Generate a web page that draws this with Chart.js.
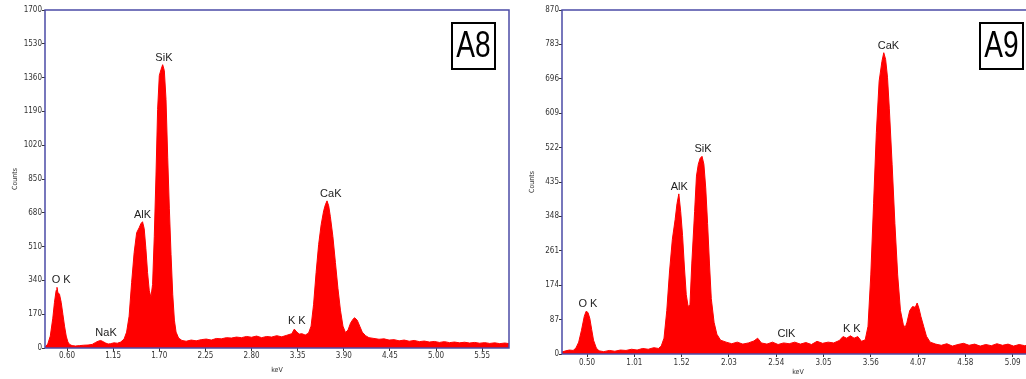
<!DOCTYPE html>
<html>
<head>
<meta charset="utf-8">
<script src="https://cdn.jsdelivr.net/npm/chart.js@4.4.1/dist/chart.umd.min.js"></script>
<style>
    html, body { margin: 0; padding: 0; background: #fff; overflow: hidden; width: 1026px; height: 379px; }
    .panel { position: absolute; top: 0; height: 379px; }
    #boxA8 { left: 0; width: 515px; }
    #boxA9 { left: 512px; width: 530px; }
</style>
</head>
<body>
<div class="panel" id="boxA8"><canvas id="chartA8"></canvas></div>
<div class="panel" id="boxA9"><canvas id="chartA9"></canvas></div>
<script>
// spectrum A8 (keV / counts)
const a8Kev = [0.34, 0.37, 0.40, 0.43, 0.45, 0.47, 0.48, 0.49, 0.51, 0.53, 0.55, 0.57, 0.59, 0.61, 0.63, 0.66, 0.70, 0.75, 0.80, 0.85,
    0.90, 0.94, 0.97, 1.00, 1.03, 1.06, 1.09, 1.12, 1.16, 1.20, 1.24, 1.28, 1.31, 1.34, 1.37, 1.40, 1.43, 1.46, 1.48, 1.50,
    1.52, 1.54, 1.56, 1.58, 1.60, 1.62, 1.64, 1.66, 1.68, 1.70, 1.72, 1.74, 1.76, 1.78, 1.80, 1.82, 1.84, 1.86, 1.88, 1.90,
    1.93, 1.97, 2.02, 2.08, 2.14, 2.20, 2.26, 2.32, 2.38, 2.44, 2.50, 2.56, 2.62, 2.68, 2.74, 2.80, 2.86, 2.92, 2.98, 3.04,
    3.10, 3.16, 3.22, 3.28, 3.31, 3.34, 3.37, 3.40, 3.44, 3.48, 3.51, 3.54, 3.57, 3.60, 3.63, 3.66, 3.68, 3.70, 3.72, 3.74,
    3.77, 3.80, 3.83, 3.86, 3.89, 3.92, 3.95, 3.98, 4.01, 4.03, 4.06, 4.09, 4.12, 4.16, 4.20, 4.26, 4.32, 4.38, 4.44, 4.50,
    4.56, 4.62, 4.68, 4.74, 4.80, 4.86, 4.92, 4.98, 5.04, 5.10, 5.16, 5.22, 5.28, 5.34, 5.40, 5.46, 5.52, 5.58, 5.64, 5.70,
    5.76, 5.82, 5.87];
const a8Counts = [5, 20, 60, 150, 230, 290, 305, 280, 270, 230, 170, 110, 60, 30, 18, 12, 10, 12, 14, 15,
    18, 28, 34, 38, 32, 25, 20, 22, 26, 24, 30, 45, 80, 160, 330, 480, 580, 605, 625, 635,
    600, 500, 380, 290, 255, 320, 560, 860, 1200, 1370, 1400, 1425, 1395, 1250, 960, 700, 470, 270, 140, 80,
    50, 38, 34, 40, 36, 42, 45, 40, 48, 46, 52, 50, 55, 52, 58, 54, 60, 52, 58, 55,
    62, 56, 64, 72, 95, 80, 70, 72, 65, 75, 110, 220, 380, 520, 620, 690, 720, 740, 715, 660,
    560, 430, 300, 190, 110, 78, 90, 125, 145, 152, 140, 110, 80, 62, 52, 48, 44, 46, 40, 42,
    36, 40, 34, 38, 32, 35, 30, 33, 28, 32, 27, 30, 26, 29, 25, 28, 24, 27, 23, 26,
    22, 25, 22];

// spectrum A9 (keV / counts)
const a9Kev = [0.23, 0.27, 0.31, 0.35, 0.38, 0.41, 0.44, 0.47, 0.49, 0.51, 0.53, 0.55, 0.57, 0.60, 0.63, 0.68, 0.74, 0.80, 0.86, 0.92,
    0.98, 1.04, 1.10, 1.16, 1.22, 1.27, 1.30, 1.33, 1.36, 1.39, 1.42, 1.45, 1.47, 1.49, 1.51, 1.53, 1.55, 1.57, 1.59, 1.61,
    1.63, 1.66, 1.68, 1.70, 1.72, 1.74, 1.76, 1.78, 1.80, 1.82, 1.84, 1.87, 1.90, 1.94, 2.00, 2.06, 2.12, 2.18, 2.24, 2.30,
    2.34, 2.38, 2.44, 2.50, 2.56, 2.62, 2.68, 2.74, 2.80, 2.86, 2.92, 2.98, 3.04, 3.10, 3.16, 3.22, 3.26, 3.30, 3.34, 3.38,
    3.42, 3.46, 3.50, 3.53, 3.56, 3.59, 3.62, 3.65, 3.68, 3.70, 3.72, 3.74, 3.76, 3.79, 3.82, 3.85, 3.88, 3.91, 3.93, 3.95,
    3.98, 4.01, 4.04, 4.06, 4.08, 4.10, 4.13, 4.16, 4.20, 4.26, 4.32, 4.38, 4.44, 4.50, 4.56, 4.62, 4.68, 4.74, 4.80, 4.86,
    4.92, 4.98, 5.04, 5.10, 5.16, 5.22, 5.28, 5.32];
const a9Counts = [5, 8, 10, 9, 15, 30, 60, 95, 108, 105, 90, 62, 35, 15, 8, 6, 9, 7, 10, 9,
    12, 10, 14, 12, 16, 14, 20, 40, 110, 210, 290, 340, 380, 405, 360, 300, 220, 150, 120, 125,
    230, 360, 450, 480, 495, 500, 480, 420, 330, 230, 140, 80, 50, 35, 30, 26, 30, 25, 28, 33,
    40, 28, 25, 30, 24, 28, 26, 30, 25, 29, 24, 32, 27, 30, 28, 34, 44, 40, 46, 40,
    44, 32, 36, 70, 200, 380, 560, 690, 740, 762, 745, 700, 620, 480, 330, 200, 110, 75, 66, 80,
    110, 120, 118, 129, 115, 95, 70, 45, 30, 25, 22, 26, 20, 24, 27, 22, 25, 20, 24, 21,
    26, 22, 25, 20, 24, 21, 23, 20];

// axis ticks
const a8TickKev = [0.60, 1.15, 1.70, 2.25, 2.80, 3.35, 3.90, 4.45, 5.00, 5.55];
const a9TickKev = [0.50, 1.01, 1.52, 2.03, 2.54, 3.05, 3.56, 4.07, 4.58, 5.09];

// peak labels
const a8LabelNames = ['O K', 'NaK', 'AlK', 'SiK', 'K K', 'CaK'];
const a8LabelKev = [0.53, 1.065, 1.50, 1.755, 3.34, 3.745];
const a8LabelCounts = [305, 40, 635, 1425, 100, 740];
const a9LabelNames = ['O K', 'AlK', 'SiK', 'ClK', 'K K', 'CaK'];
const a9LabelKev = [0.51, 1.495, 1.75, 2.65, 3.355, 3.75];
const a9LabelCounts = [109, 405, 500, 33, 46, 762];

const tinyFont = "'Liberation Sans Narrow', 'DejaVu Sans Condensed', sans-serif";
const frameBlue = '#4b4ba6';

function makeSpectrum(canvasId, cfg) {
    const ctx = document.getElementById(canvasId).getContext('2d');
    const points = cfg.kev.map((k, i) => ({ x: k, y: cfg.counts[i] }));

    const spectrumDecor = {
        id: 'spectrumDecor',
        afterDatasetsDraw(chart) {
            const c = chart.ctx;
            const area = chart.chartArea;
            const xs = chart.scales.x;
            const ys = chart.scales.y;
            c.save();
            // plot frame
            c.strokeStyle = frameBlue;
            c.lineWidth = 1.5;
            c.strokeRect(area.left, area.top, area.right - area.left, area.bottom - area.top);
            // peak labels
            c.fillStyle = '#222';
            c.font = "11px 'Liberation Sans', Arial, sans-serif";
            c.textAlign = 'center';
            c.textBaseline = 'alphabetic';
            cfg.labelNames.forEach((name, i) => {
                c.fillText(name, xs.getPixelForValue(cfg.labelKev[i]), ys.getPixelForValue(cfg.labelCounts[i]) - 4);
            });
            // sample tag, narrow lettering
            const bx = area.right - cfg.tagRight - 43;
            const by = area.top + 13;
            c.strokeStyle = '#000';
            c.lineWidth = 2;
            c.strokeRect(bx, by, 43, 46);
            c.fillStyle = '#000';
            c.font = "36px 'Liberation Sans', Arial, sans-serif";
            c.textBaseline = 'middle';
            c.translate(bx + 21.5, by + 24);
            c.scale(0.78, 1);
            c.fillText(cfg.tag, 0, 0);
            c.restore();
        }
    };

    return new Chart(ctx, {
        type: 'line',
        data: {
            datasets: [{
                data: points,
                borderColor: '#ff0000',
                backgroundColor: '#ff0000',
                borderWidth: 1,
                pointRadius: 0,
                tension: 0,
                fill: 'origin'
            }]
        },
        options: {
            responsive: true,
            maintainAspectRatio: false,
            animation: false,
            layout: { padding: { top: 10, right: cfg.padRight, left: 0, bottom: 0 } },
            plugins: { legend: { display: false }, tooltip: { enabled: false } },
            scales: {
                x: {
                    type: 'linear',
                    min: cfg.xMin,
                    max: cfg.xMax,
                    afterBuildTicks: scale => { scale.ticks = cfg.ticks.map(v => ({ value: v })); },
                    afterFit: scale => { scale.height = cfg.xAxisHeight; },
                    grid: { drawOnChartArea: false, drawTicks: true, tickLength: 3, color: '#333' },
                    border: { display: false },
                    ticks: {
                        autoSkip: false,
                        maxRotation: 0,
                        padding: cfg.xTickPad,
                        color: '#333',
                        font: { family: tinyFont, size: 8 },
                        callback: v => Number(v).toFixed(2)
                    },
                    title: {
                        display: true,
                        text: 'keV',
                        color: '#333',
                        font: { family: tinyFont, size: 7 },
                        padding: { top: 0, bottom: cfg.xTitlePad }
                    }
                },
                y: {
                    min: 0,
                    max: cfg.yMax,
                    afterFit: scale => { scale.width = cfg.yAxisWidth; },
                    grid: { drawOnChartArea: false, drawTicks: true, tickLength: 3, color: '#333' },
                    border: { display: false },
                    ticks: {
                        stepSize: cfg.yStep,
                        padding: 0,
                        color: '#333',
                        font: { family: tinyFont, size: 8 },
                        callback: v => Math.round(v)
                    },
                    title: {
                        display: true,
                        text: 'Counts',
                        color: '#333',
                        font: { family: tinyFont, size: 7 },
                        padding: { top: cfg.yTitlePad, bottom: 0 }
                    }
                }
            }
        },
        plugins: [spectrumDecor]
    });
}

document.addEventListener('DOMContentLoaded', function() {
    makeSpectrum('chartA8', {
        kev: a8Kev, counts: a8Counts, ticks: a8TickKev,
        labelNames: a8LabelNames, labelKev: a8LabelKev, labelCounts: a8LabelCounts,
        xMin: 0.337, xMax: 5.87, yMax: 1700, yStep: 170,
        padRight: 6, yAxisWidth: 45, xAxisHeight: 31,
        xTickPad: 0, xTitlePad: 5, yTitlePad: 11,
        tag: 'A8', tagRight: 14
    });
    makeSpectrum('chartA9', {
        kev: a9Kev, counts: a9Counts, ticks: a9TickKev,
        labelNames: a9LabelNames, labelKev: a9LabelKev, labelCounts: a9LabelCounts,
        xMin: 0.23, xMax: 5.32, yMax: 870, yStep: 87,
        padRight: 8, yAxisWidth: 50, xAxisHeight: 25,
        xTickPad: 1, xTitlePad: 3, yTitlePad: 16,
        tag: 'A9', tagRight: 11
    });
});
</script>
</body>
</html>
